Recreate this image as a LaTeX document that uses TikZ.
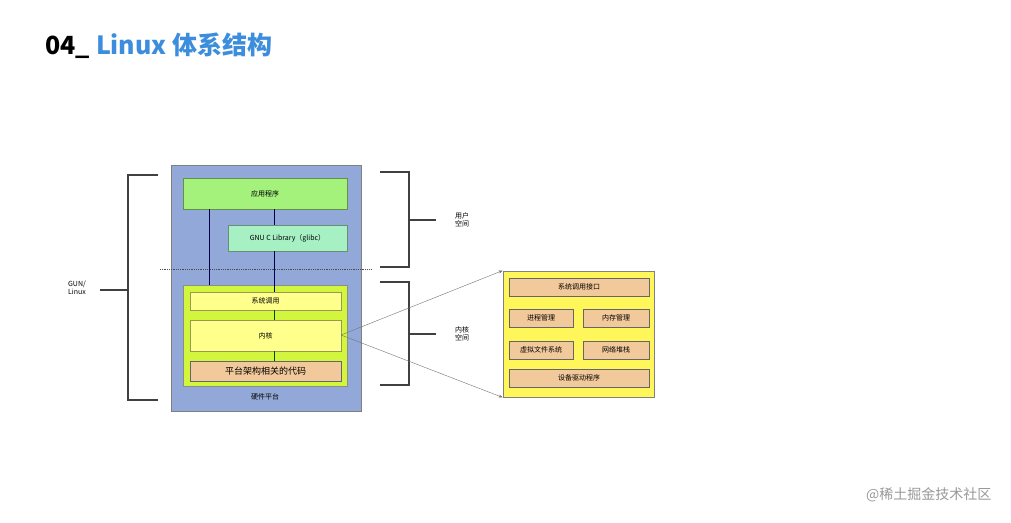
\documentclass[tikz,border=0pt]{standalone}
\usepackage{fontspec}
\setmainfont{Noto Sans CJK SC}
\usetikzlibrary{arrows.meta}
\definecolor{blu}{HTML}{92A8D8}
\definecolor{grn}{HTML}{A4F27C}
\definecolor{mint}{HTML}{A6F0C4}
\definecolor{kg}{HTML}{D2F53E}
\definecolor{yel}{HTML}{FFFF8C}
\definecolor{org}{HTML}{F2C99A}
\definecolor{ttl}{HTML}{3C8DDC}
\begin{document}
\begin{tikzpicture}[x=1pt,y=-1pt,
  box/.style={draw=#1!60!black,line width=0.6pt,inner sep=0,font=\fontsize{7}{8}\selectfont},
  bx/.style={draw=black!60,fill=org,line width=0.6pt,inner sep=0,font=\fontsize{7}{8}\selectfont},
  br/.style={line width=1.2pt,black!75},
  lab/.style={font=\fontsize{7}{8}\selectfont,align=center}]
\useasboundingbox (0,0) rectangle (1011,522);
\fill[white] (0,0) rectangle (1011,522);
\node[anchor=west,font=\fontsize{25}{27}\selectfont\bfseries] (title) at (42,46) {04\_ \textcolor{ttl}{Linux 体系结构}};
% left stack
\path[fill=blu,draw=black!50] (171,165) rectangle (361,411);
\node[box=grn,fill=grn,minimum width=164,minimum height=31] (app) at (265,193.5) {应用程序};
\node[box=mint,fill=mint,minimum width=119,minimum height=26] (glibc) at (287.5,238) {GNU C Library（glibc）};
\draw[black!70,densely dotted,thick] (160,269) -- (372,269);
\node[draw=black!45,fill=kg,line width=0.6pt,minimum width=164,minimum height=101,inner sep=0] (kern) at (265,335.5) {};
\node[box=yel,fill=yel,minimum width=151,minimum height=18] (sc) at (265.5,301) {系统调用};
\node[box=yel,fill=yel,minimum width=151,minimum height=31] (core) at (265.5,335.5) {内核};
\node[bx,minimum width=151,minimum height=20,font=\fontsize{9}{10}\selectfont] (plat) at (265.5,371) {平台架构相关的代码};
\node[lab] (hw) at (265,397) {硬件平台};
\draw[blue!30!black,line width=1pt] (209,209) -- (209,285);
\draw[blue!30!black,line width=1pt] (274,209) -- (274,225);
\draw[blue!30!black,line width=1pt] (274,251) -- (274,292);
\draw[black!70!green,line width=1pt] (274,310) -- (274,320);
\draw[black!70!green,line width=1pt] (274,351) -- (274,361);
% brackets
\draw[br] (158,175) -- (128,175) -- (128,400) -- (158,400);
\draw[br] (128,290) -- (100,290);
\node[lab] (gnu) at (77,288) {GUN/\\Linux};
\draw[br] (380,172) -- (409,172) -- (409,267) -- (380,267);
\draw[br] (409,220) -- (436,220);
\node[lab] (us) at (462,220) {用户\\空间};
\draw[br] (380,282) -- (409,282) -- (409,385) -- (380,385);
\draw[br] (409,334) -- (436,334);
\node[lab] (ks) at (462,334) {内核\\空间};
% right box
\node[draw=black!50,fill=yellow!65,line width=0.8pt,minimum width=151,minimum height=126,inner sep=0] (rb) at (578.5,334) {};
\node[bx,minimum width=140,minimum height=18] (sci) at (579,287) {系统调用接口};
\node[bx,minimum width=64,minimum height=18] (pm) at (541,318) {进程管理};
\node[bx,minimum width=66,minimum height=18] (mm) at (616,318) {内存管理};
\node[bx,minimum width=64,minimum height=18] (vfs) at (541,350) {虚拟文件系统};
\node[bx,minimum width=66,minimum height=18] (net) at (616,350) {网络堆栈};
\node[bx,minimum width=140,minimum height=18] (dd) at (579,378) {设备驱动程序};
\coordinate (c) at (341,335);
\draw[black!55,-{Stealth[length=4pt]}] (c) -- (rb.north west);
\draw[black!55,-{Stealth[length=4pt]}] (c) -- (rb.south west);
\node[anchor=east,text=black!40,font=\fontsize{14}{16}\selectfont] (wm) at (995,495) {@稀土掘金技术社区};
\end{tikzpicture}
\end{document}
